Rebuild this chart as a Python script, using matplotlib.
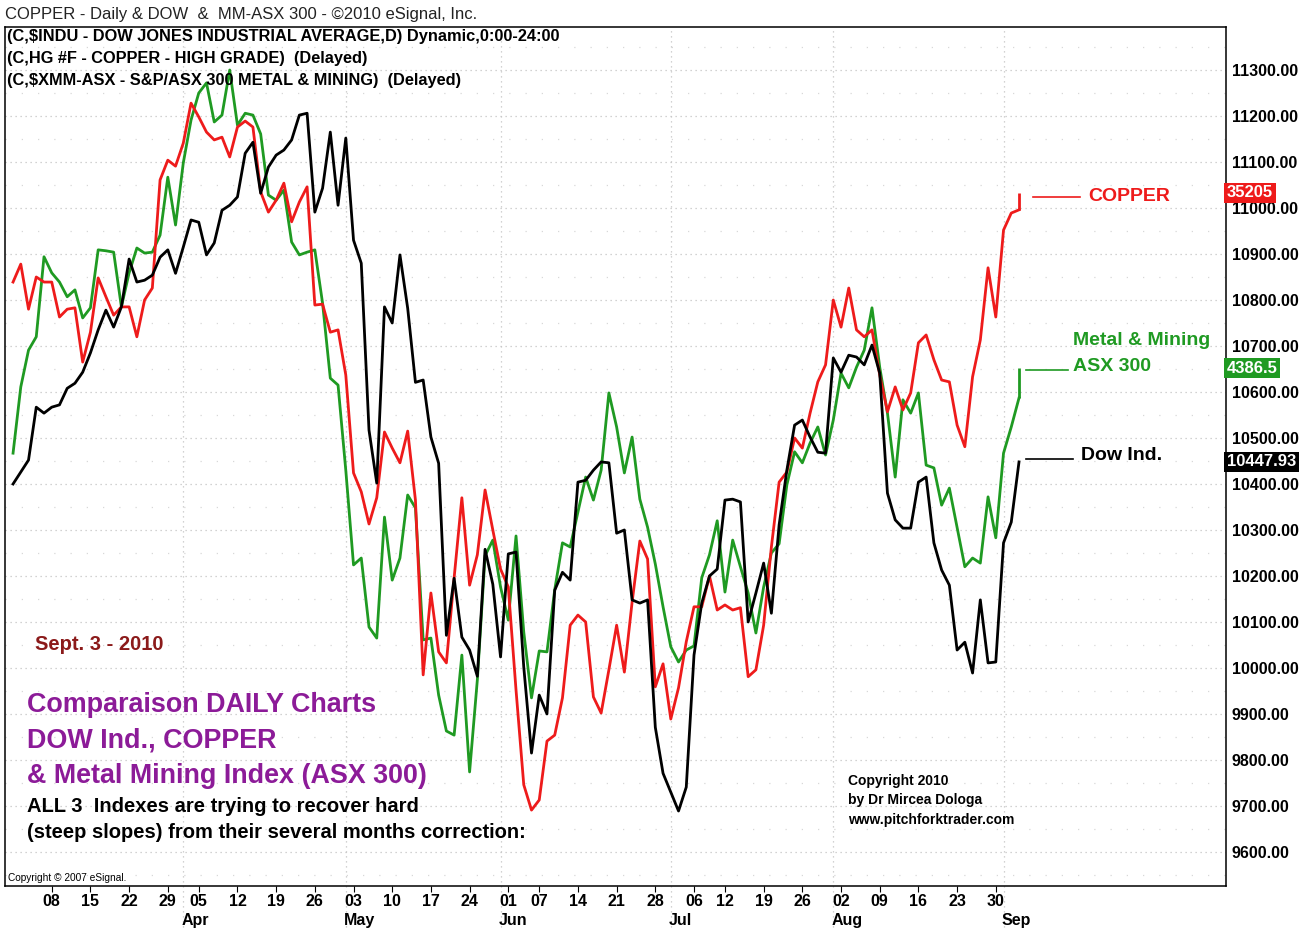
import numpy as np
import pandas as pd
import matplotlib
matplotlib.use("Agg")
import matplotlib.pyplot as plt
import matplotlib.transforms as mtransforms

plt.rcParams['font.family'] = ['Liberation Sans', 'DejaVu Sans']

# US trading days on the chart axis (Good Friday, Memorial Day, July 5 closed)
days = pd.bdate_range("2010-03-01", "2010-09-03")
days = days.drop(pd.to_datetime(["2010-04-02", "2010-05-31", "2010-07-05"]))

# daily closes from Mar 2 on, all three drawn on the Dow price scale (right axis)
dow = [10400, 10426, 10452, 10567, 10554, 10567, 10572, 10608, 10619, 10643,
       10685, 10735, 10778, 10741, 10785, 10889, 10839, 10843, 10854, 10893,
       10909, 10858, 10915, 10974, 10969, 10898, 10924, 10995, 11006, 11024,
       11119, 11143, 11032, 11089, 11115, 11126, 11148, 11202, 11206, 10991,
       11043, 11165, 11006, 11152, 10930, 10880, 10517, 10402, 10785, 10750,
       10898, 10782, 10621, 10626, 10502, 10445, 10071, 10195, 10067, 10039,
       9982, 10258, 10182, 10024, 10248, 10252, 10002, 9815, 9941, 9900,
       10169, 10208, 10191, 10404, 10408, 10430, 10448, 10446, 10293, 10300,
       10148, 10141, 10148, 9871, 9771, 9730, 9689, 9741, 10028, 10141,
       10200, 10215, 10365, 10367, 10361, 10100, 10163, 10228, 10119, 10311,
       10430, 10528, 10539, 10502, 10469, 10467, 10674, 10643, 10680, 10676,
       10659, 10702, 10641, 10380, 10322, 10304, 10304, 10404, 10415, 10272,
       10213, 10180, 10039, 10056, 9989, 10148, 10011, 10013, 10272, 10317,
       10448]

copper = [10839, 10878, 10780, 10850, 10839, 10839, 10763, 10780, 10783, 10665,
          10730, 10848, 10807, 10767, 10785, 10785, 10720, 10800, 10826, 11061,
          11104, 11091, 11141, 11228, 11198, 11165, 11148, 11154, 11111, 11176,
          11189, 11176, 11035, 10991, 11017, 11054, 10970, 11013, 11046, 10789,
          10791, 10730, 10735, 10637, 10424, 10383, 10313, 10370, 10513, 10478,
          10446, 10515, 10365, 9985, 10163, 10035, 10011, 10196, 10370, 10180,
          10246, 10387, 10300, 10215, 10176, 9952, 9746, 9691, 9713, 9841,
          9854, 9935, 10093, 10115, 10100, 9937, 9902, 9996, 10093, 9991,
          10143, 10276, 10237, 9959, 10009, 9889, 9957, 10057, 10133, 10133,
          10200, 10126, 10137, 10126, 10131, 9981, 9996, 10093, 10263, 10404,
          10426, 10500, 10478, 10554, 10622, 10659, 10800, 10741, 10826, 10735,
          10720, 10735, 10637, 10557, 10611, 10561, 10598, 10707, 10724, 10670,
          10626, 10622, 10528, 10481, 10633, 10713, 10870, 10763, 10952, 10989,
          10996]
copper_last = 11033

metal_mining = [10467, 10611, 10691, 10720, 10894, 10859, 10839, 10807, 10822, 10761,
                10783, 10909, 10907, 10904, 10785, 10859, 10913, 10902, 10904, 10941,
                11067, 10963, 11098, 11191, 11250, 11272, 11187, 11202, 11300, 11180,
                11206, 11202, 11161, 11028, 11017, 11039, 10926, 10898, 10904, 10909,
                10793, 10630, 10615, 10430, 10224, 10239, 10089, 10065, 10328, 10191,
                10239, 10376, 10348, 10061, 10065, 9941, 9863, 9854, 10028, 9774,
                9974, 10244, 10278, 10176, 10104, 10287, 10078, 9935, 10037, 10035,
                10170, 10272, 10263, 10339, 10415, 10365, 10430, 10598, 10524, 10424,
                10502, 10367, 10306, 10226, 10133, 10046, 10013, 10039, 10048, 10196,
                10246, 10320, 10165, 10278, 10220, 10163, 10076, 10176, 10250, 10270,
                10398, 10470, 10446, 10489, 10524, 10463, 10539, 10641, 10609, 10654,
                10691, 10783, 10654, 10554, 10415, 10583, 10554, 10598, 10441, 10435,
                10354, 10391, 10306, 10220, 10239, 10228, 10372, 10283, 10467, 10524,
                10587]
mm_last = 10652

copper_quote = "35205"
mm_quote = "4386.5"
dow_quote = "10447.93"

RED = '#ee1b1b'
GREEN = '#1f9a22'
PURPLE = '#8c1b98'

idx = np.arange(len(days))
x = idx[1:]
n = x[-1]

fig = plt.figure(figsize=(13.12, 9.31), dpi=100)
ax = fig.add_axes([5 / 1312, 1 - 886 / 931, 1221 / 1312, 859 / 931])
ax.set_xlim(-0.04, 157.75)
ax.set_ylim(9526, 11393.5)

# dotted price grid
for v in np.arange(9600, 11400, 100):
    ax.axhline(v, color='#c4c4c4', lw=0.9, ls=(0, (1, 3)), zorder=0)
for v in np.arange(9550, 11400, 100):
    ax.axhline(v, color='#d8d8d8', lw=0.9, ls=(0, (1, 12)), zorder=0)

# month separators and names
month_first = [i for i in idx[1:] if days[i].month != days[i - 1].month]
for m in month_first:
    ax.axvline(m, ymin=-0.055, ymax=1, color='#c4c4c4', lw=0.9,
               ls=(0, (1, 3)), clip_on=False, zorder=0)
    ax.text(m - 0.25, -0.0407, days[m].strftime("%b"),
            transform=mtransforms.blended_transform_factory(ax.transData, ax.transAxes),
            ha='left', va='center', fontsize=11.5, fontweight='bold')

# the three closes
ax.plot(x, metal_mining, color=GREEN, lw=2.0)
ax.plot(x, copper, color=RED, lw=2.0)
ax.plot(x, dow, color='black', lw=2.0)
ax.vlines(n, copper[-1], copper_last, color=RED, lw=2.0)
ax.vlines(n, metal_mining[-1], mm_last, color=GREEN, lw=2.0)

# right price axis
ax.yaxis.tick_right()
yt = np.arange(9600, 11301, 100)
ax.set_yticks(yt)
ax.set_yticklabels([f"{v:.2f}" for v in yt], fontsize=11.5, fontweight='bold')
ax.tick_params(axis='y', length=0, pad=4)

# week labels (first trading day of each week)
week_starts = [i for i in idx[1:] if days[i].weekday() < days[i - 1].weekday()]
week_starts = [i for i in week_starts if days[i] <= pd.Timestamp("2010-08-30")]
ax.set_xticks([i + 1 for i in week_starts])
ax.set_xticklabels([days[i].strftime("%d") for i in week_starts],
                   fontsize=11.5, fontweight='bold')
ax.tick_params(axis='x', length=4, width=0.8, pad=2)

for s in ax.spines.values():
    s.set_linewidth(1.1)

# last-value boxes on the price axis
tr = mtransforms.blended_transform_factory(ax.transAxes, ax.transData)
for val, txt, col in [(copper_last, copper_quote, RED),
                      (mm_last, mm_quote, GREEN),
                      (dow[-1], dow_quote, 'black')]:
    ax.text(1.0008, val, txt, transform=tr, ha='left', va='center', color='white',
            fontsize=12, fontweight='bold', clip_on=False, zorder=5,
            bbox=dict(boxstyle='square,pad=0.15', fc=col, ec='none'))

# series names at the right end
ax.plot([n + 1.8, n + 7.9], [copper_last - 8, copper_last - 8], color=RED, lw=1.2)
ax.text(n + 8.9, copper_last - 8, "COPPER", color=RED, fontsize=14,
        fontweight='bold', va='center')
ax.plot([n + 0.9, n + 6.3], [mm_last - 4, mm_last - 4], color=GREEN, lw=1.2)
ax.text(n + 7.0, mm_last + 4, "ASX 300", color=GREEN, fontsize=14,
        fontweight='bold', va='center')
ax.text(n + 7.0, mm_last + 60, "Metal & Mining", color=GREEN, fontsize=14,
        fontweight='bold', va='center')
ax.plot([n + 0.9, n + 7.0], [dow[-1] + 6, dow[-1] + 6], color='black', lw=1.2)
ax.text(n + 8.0, dow[-1] + 15, "Dow Ind.", color='black', fontsize=14,
        fontweight='bold', va='center')


def ftext(px, py, s, **kw):
    fig.text(px / 1312, 1 - py / 931, s, va='center', ha='left', **kw)


ftext(5, 14, "COPPER - Daily & DOW  &  MM-ASX 300 - \u00a92010 eSignal, Inc.",
      fontsize=12, color='#222222')
ftext(7, 37, "(C,$INDU - DOW JONES INDUSTRIAL AVERAGE,D) Dynamic,0:00-24:00",
      fontsize=11.8, fontweight='bold')
ftext(7, 58, "(C,HG #F - COPPER - HIGH GRADE)  (Delayed)",
      fontsize=11.8, fontweight='bold')
ftext(7, 80, "(C,$XMM-ASX - S&P/ASX 300 METAL & MINING)  (Delayed)",
      fontsize=11.8, fontweight='bold')

ftext(35, 645, "Sept. 3 - 2010", fontsize=14.5, fontweight='bold', color='#8b1a1a')
ftext(27, 705, "Comparaison DAILY Charts", fontsize=19.4, fontweight='bold', color=PURPLE)
ftext(27, 741, "DOW Ind., COPPER", fontsize=19.4, fontweight='bold', color=PURPLE)
ftext(27, 776, "& Metal Mining Index (ASX 300)", fontsize=19.4, fontweight='bold', color=PURPLE)
ftext(27, 806, "ALL 3  Indexes are trying to recover hard", fontsize=14.5, fontweight='bold')
ftext(27, 833, "(steep slopes) from their several months correction:", fontsize=14.5,
      fontweight='bold')

ftext(848, 781, "Copyright 2010", fontsize=10, fontweight='bold')
ftext(848, 800, "by Dr Mircea Dologa", fontsize=10, fontweight='bold')
ftext(848, 820, "www.pitchforktrader.com", fontsize=10, fontweight='bold')
ftext(8, 878, "Copyright \u00a9 2007 eSignal.", fontsize=7.3)

fig.savefig("out.png", dpi=100)
